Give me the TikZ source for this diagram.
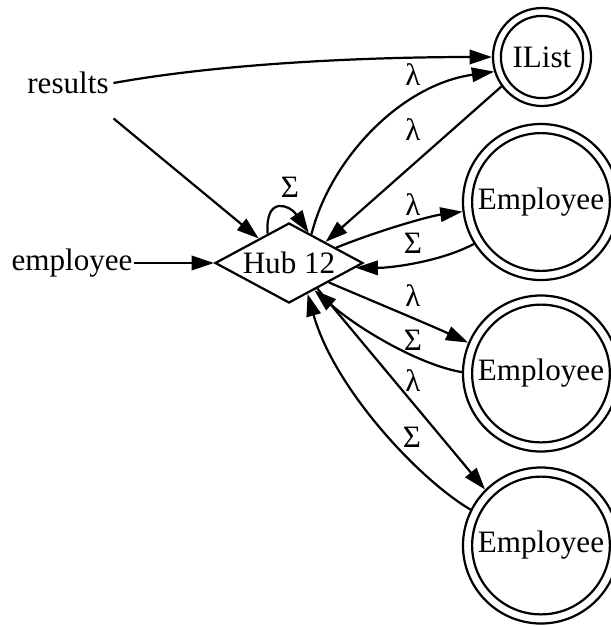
\documentclass[tikz,border=0pt]{standalone}
\usepackage{fontspec}
\setmainfont{Liberation Serif}
\usetikzlibrary{arrows.meta,shapes.geometric}
\begin{document}
\begin{tikzpicture}[x=0.45pt,y=-0.45pt,
  every node/.style={font=\fontsize{14pt}{16pt}\selectfont},
  edge/.style={line width=1pt,-{Triangle[length=10pt,width=6.5pt]}},
  acc/.style={circle,draw,line width=1pt,inner sep=0pt},
  inner/.style={line width=1pt},
  lbl/.style={inner sep=0pt},
  plain/.style={inner sep=0pt}]
\clip (0,0) rectangle (611,626);
% nodes
\node[plain, inner xsep=2pt, minimum height=31.5pt] (results) at (68,83) {results};
\node[plain, inner xsep=0.5pt] (employee) at (72,263) {employee};
\node[diamond, draw, line width=1pt, aspect=1.85, inner sep=0pt,
      minimum width=66.6pt, minimum height=36pt] (hub) at (289,263) {Hub 12};
\node[acc, minimum size=44.1pt] (ilist) at (542,57) {IList};
\node[acc, minimum size=70.2pt] (e1) at (541,202) {Employee};
\node[acc, minimum size=70.2pt] (e2) at (541,373.5) {Employee};
\node[acc, minimum size=70.2pt] (e3) at (541,545.5) {Employee};
\draw[inner] (ilist.center) circle[radius=18.5pt];
\draw[inner] (e1.center) circle[radius=31pt];
\draw[inner] (e2.center) circle[radius=31pt];
\draw[inner] (e3.center) circle[radius=31pt];
% edges
\draw[edge] (results.east) .. controls (230,62) and (380,57) .. (ilist);
\draw[edge] (results.south east) -- (hub.141);
\draw[edge] (employee.east) -- (hub.west);
\draw[edge] (hub.126) .. controls (265,195) and (290,205) .. (hub.57);
\draw[edge] (hub.52) .. controls (330,160) and (400,85) .. (ilist.197);
\draw[edge] (ilist.216) -- (hub.30);
\draw[edge] (hub.18) .. controls (380,230) and (430,216) .. (e1.187);
\draw[edge] (e1.212) .. controls (440,262) and (390,268) .. (hub.-4);
\draw[edge] (hub.-26) .. controls (370,300) and (430,325) .. (e2.157);
\draw[edge] (e2.179) .. controls (420,365) and (360,330) .. (hub.-47);
\draw[edge] (hub.-42) -- (e3.135);
\draw[edge] (e3.153) .. controls (420,480) and (335,390) .. (hub.-59);
% labels
\node[lbl] (lloop) at (290,187) {Σ};
\node[lbl] (l1) at (413,75) {λ};
\node[lbl] (l2) at (413,130) {λ};
\node[lbl] (l3) at (413,205) {λ};
\node[lbl] (l4) at (413,243) {Σ};
\node[lbl] (l5) at (413,296) {λ};
\node[lbl] (l6) at (413,340) {Σ};
\node[lbl] (l7) at (413,381) {λ};
\node[lbl] (l8) at (412,437) {Σ};
\end{tikzpicture}
\end{document}
